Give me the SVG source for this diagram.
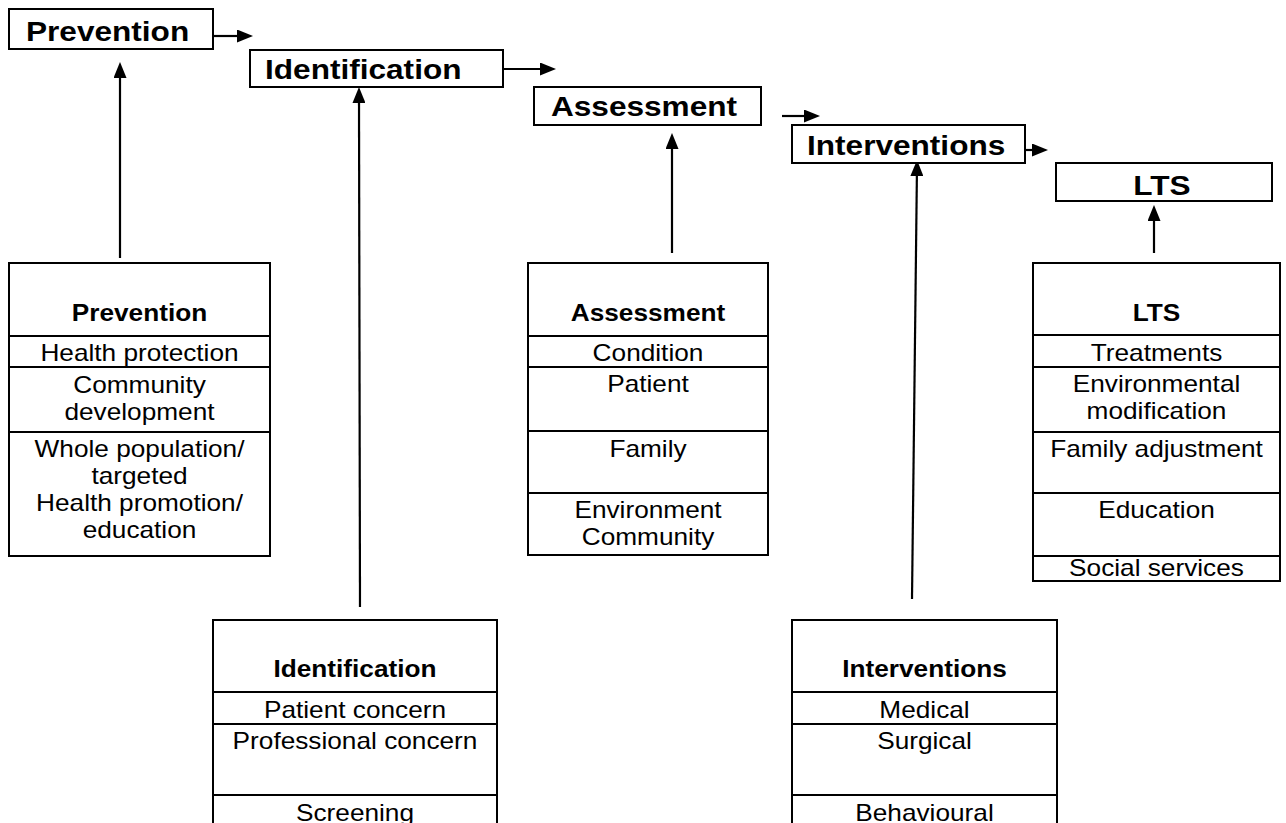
<svg xmlns="http://www.w3.org/2000/svg" width="1286" height="823" viewBox="0 0 1286 823">
<style>
.box{fill:#fff;stroke:#000;stroke-width:2}
.div{stroke:#000;stroke-width:2}
.h{font-family:"Liberation Sans",Arial,sans-serif;font-weight:bold;font-size:27px;fill:#000}
.hb{font-family:"Liberation Sans",Arial,sans-serif;font-weight:bold;font-size:23px;fill:#000;text-anchor:middle}
.t{font-family:"Liberation Sans",Arial,sans-serif;font-size:23px;fill:#000;text-anchor:middle}
.c{stroke:#000;stroke-width:2.2;fill:none;marker-end:url(#ah)}
</style>
<defs>
<marker id="ah" viewBox="0 0 16 13" refX="2" refY="6.5" markerWidth="16" markerHeight="13" markerUnits="userSpaceOnUse" orient="auto">
<path d="M0,0 L16,6.5 L0,13 z" fill="#000"/>
</marker>
</defs>
<rect width="1286" height="823" fill="#fff"/>

<g id="connectors">
<line class="c" x1="213" y1="36" x2="239" y2="36"/>
<line class="c" x1="503" y1="69" x2="542" y2="69"/>
<line class="c" x1="782" y1="116" x2="806" y2="116"/>
<line class="c" x1="1010" y1="150" x2="1034" y2="150"/>
<line class="c" x1="120" y1="258" x2="120" y2="76"/>
<line class="c" x1="360" y1="607" x2="359" y2="101"/>
<line class="c" x1="672" y1="253" x2="672" y2="147"/>
<line class="c" x1="912" y1="599" x2="916.9" y2="174"/>
<line class="c" x1="1154" y1="253" x2="1154" y2="219"/>
</g>

<g id="top-prevention">
<rect class="box" x="9" y="9" width="204" height="40"/>
<text class="h" transform="translate(26,41) scale(1.17,1)">Prevention</text>
</g>
<g id="top-identification">
<rect class="box" x="250" y="50" width="253" height="37"/>
<text class="h" transform="translate(265,79) scale(1.17,1)">Identification</text>
</g>
<g id="top-assessment">
<rect class="box" x="534" y="87" width="227" height="38"/>
<text class="h" transform="translate(551,116) scale(1.17,1)">Assessment</text>
</g>
<g id="top-interventions">
<rect class="box" x="792" y="125" width="233" height="38"/>
<text class="h" transform="translate(807,155) scale(1.17,1)">Interventions</text>
</g>
<g id="top-lts">
<rect class="box" x="1056" y="163" width="216" height="38"/>
<text class="h" text-anchor="middle" transform="translate(1162,195) scale(1.17,1)">LTS</text>
</g>

<g id="prevention">
<rect class="box" x="9" y="263" width="261" height="293"/>
<line class="div" x1="9" y1="336" x2="270" y2="336"/>
<line class="div" x1="9" y1="367" x2="270" y2="367"/>
<line class="div" x1="9" y1="432" x2="270" y2="432"/>
<text class="hb" transform="translate(139.5,321) scale(1.14,1)">Prevention</text>
<text class="t" transform="translate(139.5,361) scale(1.14,1)">Health protection</text>
<text class="t" transform="translate(139.5,393) scale(1.14,1)">Community</text>
<text class="t" transform="translate(139.5,420) scale(1.14,1)">development</text>
<text class="t" transform="translate(139.5,457) scale(1.14,1)">Whole population/</text>
<text class="t" transform="translate(139.5,484) scale(1.14,1)">targeted</text>
<text class="t" transform="translate(139.5,511) scale(1.14,1)">Health promotion/</text>
<text class="t" transform="translate(139.5,538) scale(1.14,1)">education</text>
</g>

<g id="assessment">
<rect class="box" x="528" y="263" width="240" height="292"/>
<line class="div" x1="528" y1="336" x2="768" y2="336"/>
<line class="div" x1="528" y1="367" x2="768" y2="367"/>
<line class="div" x1="528" y1="431" x2="768" y2="431"/>
<line class="div" x1="528" y1="493" x2="768" y2="493"/>
<text class="hb" transform="translate(648,321) scale(1.14,1)">Assessment</text>
<text class="t" transform="translate(648,361) scale(1.14,1)">Condition</text>
<text class="t" transform="translate(648,392) scale(1.14,1)">Patient</text>
<text class="t" transform="translate(648,457) scale(1.14,1)">Family</text>
<text class="t" transform="translate(648,518) scale(1.14,1)">Environment</text>
<text class="t" transform="translate(648,545) scale(1.14,1)">Community</text>
</g>

<g id="lts">
<rect class="box" x="1033" y="263" width="247" height="318"/>
<line class="div" x1="1033" y1="335" x2="1280" y2="335"/>
<line class="div" x1="1033" y1="367" x2="1280" y2="367"/>
<line class="div" x1="1033" y1="432" x2="1280" y2="432"/>
<line class="div" x1="1033" y1="493" x2="1280" y2="493"/>
<line class="div" x1="1033" y1="556" x2="1280" y2="556"/>
<text class="hb" transform="translate(1156.5,321) scale(1.14,1)">LTS</text>
<text class="t" transform="translate(1156.5,361) scale(1.14,1)">Treatments</text>
<text class="t" transform="translate(1156.5,392) scale(1.14,1)">Environmental</text>
<text class="t" transform="translate(1156.5,419) scale(1.14,1)">modification</text>
<text class="t" transform="translate(1156.5,457) scale(1.14,1)">Family adjustment</text>
<text class="t" transform="translate(1156.5,518) scale(1.14,1)">Education</text>
<text class="t" transform="translate(1156.5,576) scale(1.14,1)">Social services</text>
</g>

<g id="identification">
<rect class="box" x="213" y="620" width="284" height="230"/>
<line class="div" x1="213" y1="692" x2="497" y2="692"/>
<line class="div" x1="213" y1="724" x2="497" y2="724"/>
<line class="div" x1="213" y1="795" x2="497" y2="795"/>
<text class="hb" transform="translate(355,677) scale(1.14,1)">Identification</text>
<text class="t" transform="translate(355,718) scale(1.14,1)">Patient concern</text>
<text class="t" transform="translate(355,749) scale(1.14,1)">Professional concern</text>
<text class="t" transform="translate(355,821) scale(1.14,1)">Screening</text>
</g>

<g id="interventions">
<rect class="box" x="792" y="620" width="265" height="230"/>
<line class="div" x1="792" y1="692" x2="1057" y2="692"/>
<line class="div" x1="792" y1="724" x2="1057" y2="724"/>
<line class="div" x1="792" y1="795" x2="1057" y2="795"/>
<text class="hb" transform="translate(924.5,677) scale(1.14,1)">Interventions</text>
<text class="t" transform="translate(924.5,718) scale(1.14,1)">Medical</text>
<text class="t" transform="translate(924.5,749) scale(1.14,1)">Surgical</text>
<text class="t" transform="translate(924.5,821) scale(1.14,1)">Behavioural</text>
</g>
</svg>
